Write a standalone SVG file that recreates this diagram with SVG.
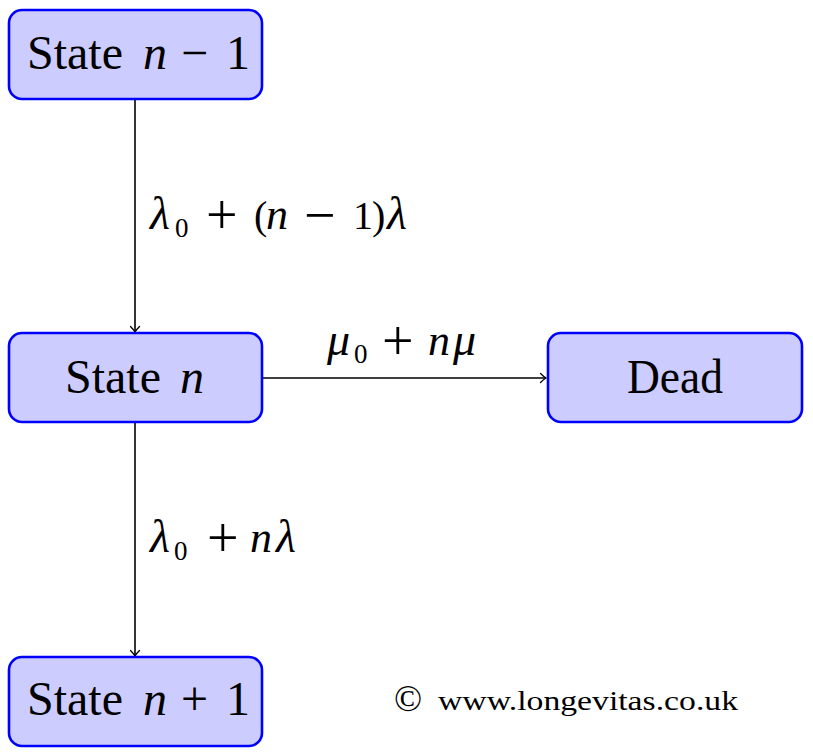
<svg xmlns="http://www.w3.org/2000/svg" width="813" height="755" viewBox="0 0 813 755">
<defs>
<style>
.box{fill:#ccccff;stroke:#0000ff;stroke-width:2.6}
.edge{stroke:#000;stroke-width:1.6;fill:none;marker-end:url(#ah)}
.it{font-style:italic;font-size:44px}
.gr{font-style:italic;font-size:46px}
.sub{font-size:27px}
.op{font-size:56px}
</style>
<marker id="ah" markerWidth="12" markerHeight="12" refX="7" refY="6" orient="auto" markerUnits="userSpaceOnUse">
<path d="M1.5,1.5 Q4.5,4.5 7,6 Q4.5,7.5 1.5,10.5" fill="none" stroke="#000" stroke-width="1.3" stroke-linecap="round"/>
</marker>
</defs>
<rect width="813" height="755" fill="#fff"/>
<g id="connectors">
<line class="edge" x1="135" y1="99" x2="135" y2="332"/>
<line class="edge" x1="262" y1="378" x2="546" y2="378"/>
<line class="edge" x1="135" y1="422" x2="135" y2="656"/>
<g font-family="Liberation Serif, DejaVu Serif, serif" font-size="40" fill="#000">
<text y="229"><tspan class="gr" x="150">λ</tspan><tspan class="sub" x="175" y="237">0</tspan><tspan class="op" x="206" y="234">+</tspan><tspan x="254" y="229">(</tspan><tspan class="it" x="266">n</tspan><tspan class="op" x="304" y="234">−</tspan><tspan x="353" y="229">1</tspan><tspan x="372">)</tspan><tspan class="gr" x="387">λ</tspan></text>
<text y="355"><tspan class="gr" x="327">μ</tspan><tspan class="sub" x="354" y="363">0</tspan><tspan class="op" x="382" y="360">+</tspan><tspan class="it" x="428" y="355">n</tspan><tspan class="gr" x="453">μ</tspan></text>
<text y="552"><tspan class="gr" x="150">λ</tspan><tspan class="sub" x="174" y="560">0</tspan><tspan class="op" x="207" y="557">+</tspan><tspan class="it" x="250" y="552">n</tspan><tspan class="gr" x="276">λ</tspan></text>
</g>
</g>
<g font-family="Liberation Serif, DejaVu Serif, serif" font-size="48" fill="#000">
<g id="state-n-1">
<rect class="box" x="9" y="10" width="253" height="89" rx="13"/>
<text y="69"><tspan x="27">State</tspan><tspan font-style="italic" x="143">n</tspan><tspan x="181">−</tspan><tspan x="226">1</tspan></text>
</g>
<g id="state-n">
<rect class="box" x="9" y="333" width="253" height="89" rx="13"/>
<text y="393"><tspan x="65">State</tspan><tspan font-style="italic" x="180">n</tspan></text>
</g>
<g id="dead">
<rect class="box" x="548" y="333" width="254" height="89" rx="13"/>
<text x="627" y="393" textLength="96" lengthAdjust="spacingAndGlyphs">Dead</text>
</g>
<g id="state-n-plus-1">
<rect class="box" x="9" y="657" width="253" height="89" rx="13"/>
<text y="715"><tspan x="27">State</tspan><tspan font-style="italic" x="143">n</tspan><tspan x="181">+</tspan><tspan x="226">1</tspan></text>
</g>
</g>
<g id="copyright" font-family="Liberation Serif, DejaVu Serif, serif" fill="#000">
<text x="394" y="711" font-size="37">©</text>
<text x="438" y="710" font-size="28" textLength="300" lengthAdjust="spacingAndGlyphs">www.longevitas.co.uk</text>
</g>
</svg>
